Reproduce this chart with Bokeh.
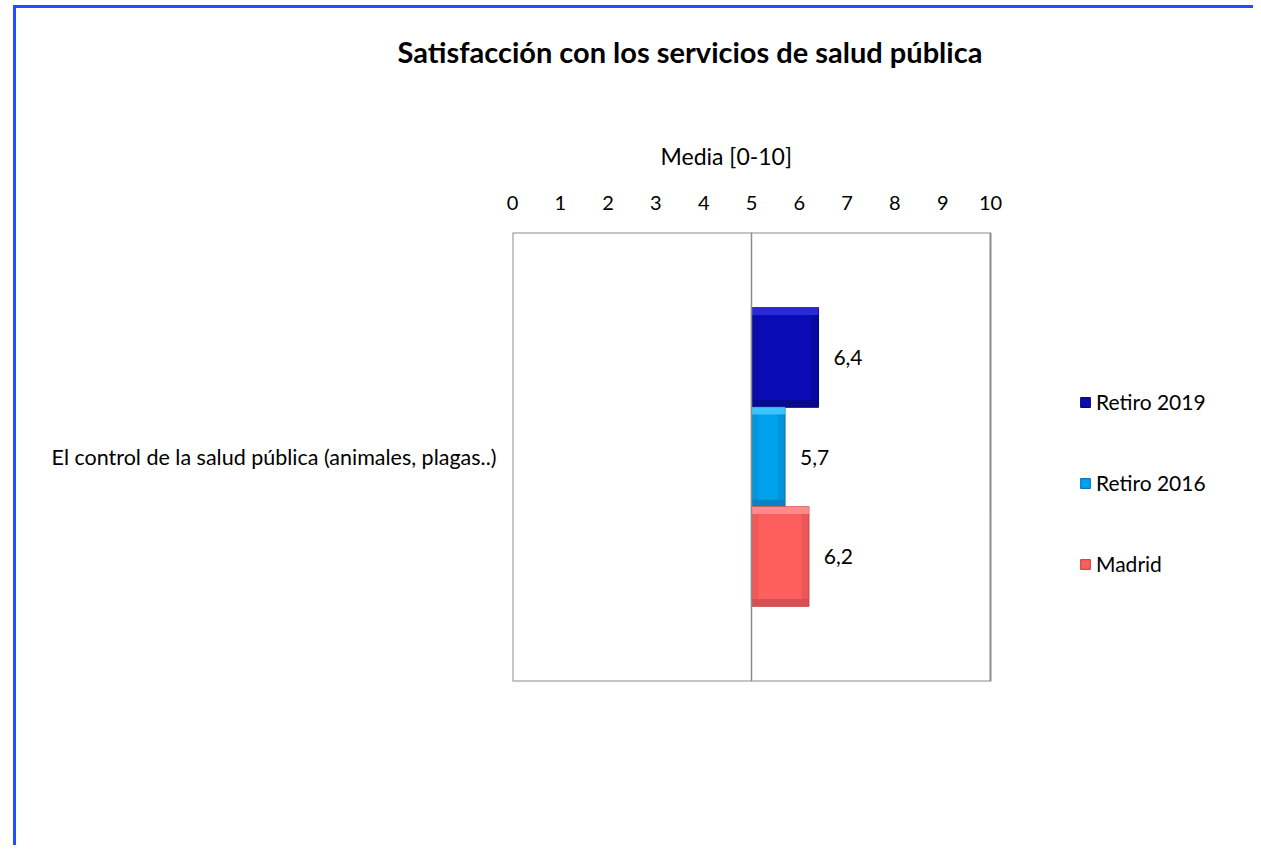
from bokeh.plotting import figure
from bokeh.models import (ColumnDataSource, FactorRange, Range1d, Span, Legend,
                          LegendItem, FixedTicker, Title)
from bokeh.transform import dodge
from bokeh.core.properties import value
from bokeh.embed import file_html
from bokeh.resources import INLINE

# ---- data ----
title_text = "Satisfacción con los servicios de salud pública"
axis_title = "Media [0-10]"
categories = ["El control de la salud pública (animales, plagas..)"]
series_names = ["Retiro 2019", "Retiro 2016", "Madrid"]
series_values = [6.4, 5.7, 6.2]
series_colors = ["#0C0CB4", "#00A2EE", "#FF5E5E"]
series_light = ["#2A2AD8", "#3CC4FF", "#FF8A8A"]
series_dark = ["#070780", "#0A78B8", "#C84848"]
x_ticks = [0, 1, 2, 3, 4, 5, 6, 7, 8, 9, 10]
base_value = 5

FONT = "Lato"
GRAY = "#8C8C8C"

p = figure(width=1240, height=840, y_range=FactorRange(factors=categories, range_padding=0),
           x_range=Range1d(0, 15.565), x_axis_location="above",
           output_backend="svg", toolbar_location=None,
           min_border_left=496, min_border_right=0, min_border_top=224, min_border_bottom=167,
           styles={"margin-left": "13px", "margin-top": "5px",
                   "border-left": "3px solid #1F4FFF", "border-top": "3px solid #1F4FFF"})

p.background_fill_color = "white"
p.border_fill_color = "white"
p.outline_line_color = None
p.xgrid.grid_line_color = None
p.ygrid.grid_line_color = None

xa = p.xaxis[0]
xa.ticker = FixedTicker(ticks=x_ticks)
xa.axis_line_color = None
xa.major_tick_line_color = None
xa.minor_tick_line_color = None
xa.major_label_text_font = FONT
xa.major_label_text_font_size = "20px"
xa.major_label_text_color = "#000000"
xa.major_label_standoff = 17

ya = p.yaxis[0]
ya.axis_line_color = None
ya.major_tick_line_color = None
ya.minor_tick_line_color = None
ya.major_label_text_font = FONT
ya.major_label_text_font_size = "21.5px"
ya.major_label_text_color = "#000000"
ya.major_label_standoff = 10

# axis title, spacer and chart title, stacked above the axis
p.add_layout(Title(text=axis_title, align="left", offset=148, standoff=46,
                   text_font=FONT, text_font_size="23px", text_font_style="normal",
                   text_color="#000000"), "above")
p.add_layout(Title(text=" ", align="left", standoff=35, text_font=FONT,
                   text_font_size="1px"), "above")
p.add_layout(Title(text=title_text, align="left", offset=-115, standoff=20,
                   text_font=FONT, text_font_size="29px", text_font_style="bold",
                   text_color="#000000"), "above")

# plot-area box spanning the value scale
cat_src = ColumnDataSource(dict(cat=categories, x0=[x_ticks[0]], x1=[x_ticks[-1]]))
p.quad(left="x0", right="x1", bottom=dodge("cat", -0.5, range=p.y_range),
       top=dodge("cat", 0.5, range=p.y_range), fill_alpha=0, line_color=GRAY, line_width=2,
       source=cat_src)

# vertical reference line at the base value
p.add_layout(Span(location=base_value, dimension="height", line_color=GRAY, line_width=1.5))

bar_h = 0.2216
bev_y = 0.016   # bevel depth (category units)
bev_x = 0.15    # bevel depth (value units)
items = []
for i, (name, val, col, lt, dk) in enumerate(zip(series_names, series_values, series_colors,
                                                  series_light, series_dark)):
    off = (1 - i) * bar_h
    src = ColumnDataSource(dict(cat=categories, left=[base_value], right=[val],
                                inner_r=[val - bev_x], inner_l=[base_value + bev_x],
                                lbl=[f"{val:.1f}".replace(".", ",")]))
    r = p.hbar(y=dodge("cat", off, range=p.y_range), left="left", right="right", height=bar_h,
               fill_color=col, line_color=dk, line_width=1.2, source=src)
    # soft bevel: lighter top edge, darker sides and bottom edge
    p.hbar(y=dodge("cat", off + bar_h / 2 - bev_y / 2, range=p.y_range), left="left", right="right",
           height=bev_y, fill_color=lt, line_color=None, source=src)
    p.hbar(y=dodge("cat", off - bar_h / 2 + bev_y / 2, range=p.y_range), left="left", right="right",
           height=bev_y, fill_color=dk, fill_alpha=0.7, line_color=None, source=src)
    p.hbar(y=dodge("cat", off, range=p.y_range), left="inner_r", right="right",
           height=bar_h - 2 * bev_y, fill_color=dk, fill_alpha=0.35, line_color=None, source=src)
    p.hbar(y=dodge("cat", off, range=p.y_range), left="left", right="inner_l",
           height=bar_h - 2 * bev_y, fill_color=dk, fill_alpha=0.25, line_color=None, source=src)
    p.text(x="right", y=dodge("cat", off, range=p.y_range), text="lbl", source=src,
           x_offset=15, text_align="left", text_baseline="middle",
           text_font=value(FONT), text_font_size="21px", text_color="#000000")
    items.append(LegendItem(label=name, renderers=[r]))

legend = Legend(items=items, location=(567, 105), orientation="vertical",
                glyph_width=12, glyph_height=12, label_height=24, label_standoff=5,
                spacing=56, padding=0, margin=0,
                label_text_font=FONT, label_text_font_size="21px", label_text_color="#000000",
                border_line_alpha=0, background_fill_alpha=0)
p.add_layout(legend, "center")

open("out.html", "w").write(file_html(p, INLINE))
